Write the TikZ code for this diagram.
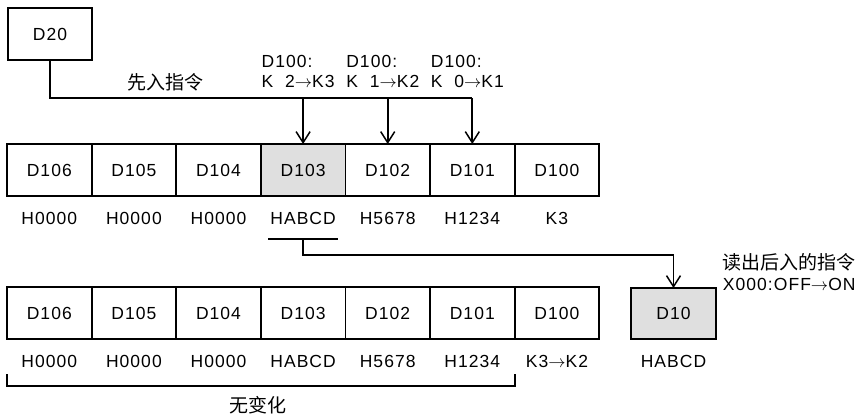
\documentclass[tikz,border=0pt]{standalone}
\usepackage{fontspec}
\setmainfont{Liberation Sans}[LetterSpace=6]
\newfontfamily\cjk{Noto Sans CJK SC}
\newcommand\toarr{\ensuremath{\rightarrow}}
\usetikzlibrary{arrows.meta,positioning}
\begin{document}
\begin{tikzpicture}[x=1pt,y=-1pt,line width=1.8pt,
  font=\fontsize{17.5}{20}\selectfont,
  cell/.style={draw,minimum width=84.6pt,minimum height=52pt,inner sep=0pt,outer sep=0pt},
  val/.style={inner sep=0pt},
  cn/.style={inner sep=0pt,font=\cjk\fontsize{19}{22}\selectfont},
  arr/.style={-{Straight Barb[length=11pt,width=14pt,line width=1.5pt]}}]
\useasboundingbox (0,0) rectangle (866,418);
\def\w{84.6}
% ---- 源数据 D20 ----
\node[cell] (d20) at (50,34) {D20};
% ---- 上下两行 D106 ... D100 ----
\foreach \n [count=\i from 0] in {106,105,...,100}{
  % 判定是否读出格
  \def\fillc{white}
  \ifnum\n=103 \def\fillc{gray!25}\fi
  \node[cell,fill=\fillc] (t\n) at ({49.3+\i*\w},170) {D\n};
  \node[cell] (b\n) at ({49.3+\i*\w},313) {D\n};
}
% ---- 各格的数值 ----
\foreach \n/\v in {106/H0000,105/H0000,104/H0000,103/HABCD,102/H5678,101/H1234,100/K3}
  \node[val,below=15pt of t\n] (tv\n) {\v};
\foreach \n/\v in {106/H0000,105/H0000,104/H0000,103/HABCD,102/H5678,101/H1234,100/K3\toarr K2}
  \node[val,below=15pt of b\n] (bv\n) {\v};
% ---- 读出目标 D10 ----
\node[cell,minimum height=51pt,fill=gray!25] (d10) at (673.5,313.5) {D10};
\node[val,below=15pt of d10] (d10v) {HABCD};
% ---- 先入指令：D20 写入 ----
\node[cn] (push) at (165,82) {先入指令};
\draw (d20.south) |- ([yshift=46pt]t101.north);
\foreach \n in {103,102,101}
  \draw[arr] ([yshift=46pt]t\n.north) -- (t\n.north);
\foreach \n/\a/\b in {103/2/3,102/1/2,101/0/1}
  \node[val,anchor=north west,align=left] (k\n) at ([yshift=90pt]t\n.north west) {D100:\\K\ \ \a\toarr K\b};
% ---- 读出后入的指令 ----
\draw ([xshift=-1pt,yshift=-14pt]tv103.south west) -- ([xshift=1pt,yshift=-14pt]tv103.south east);
\coordinate (ul) at ([yshift=-14pt]tv103.south);
\draw[arr] (ul) |- ([yshift=33pt]d10.north) -- (d10.north);
\node[cn,anchor=west] (pop) at (722,262) {读出后入的指令};
\node[val,anchor=west] (pop2) at (722,284) {X000:OFF\toarr ON};
% ---- 无变化 括号 ----
\draw ([yshift=-35pt]b106.south west) -- ([yshift=-47pt]b106.south west)
  -- ([yshift=-47pt]b100.south west) -- ([yshift=-35pt]b100.south west);
\node[cn] (same) at (258,405) {无变化};
\end{tikzpicture}
\end{document}
